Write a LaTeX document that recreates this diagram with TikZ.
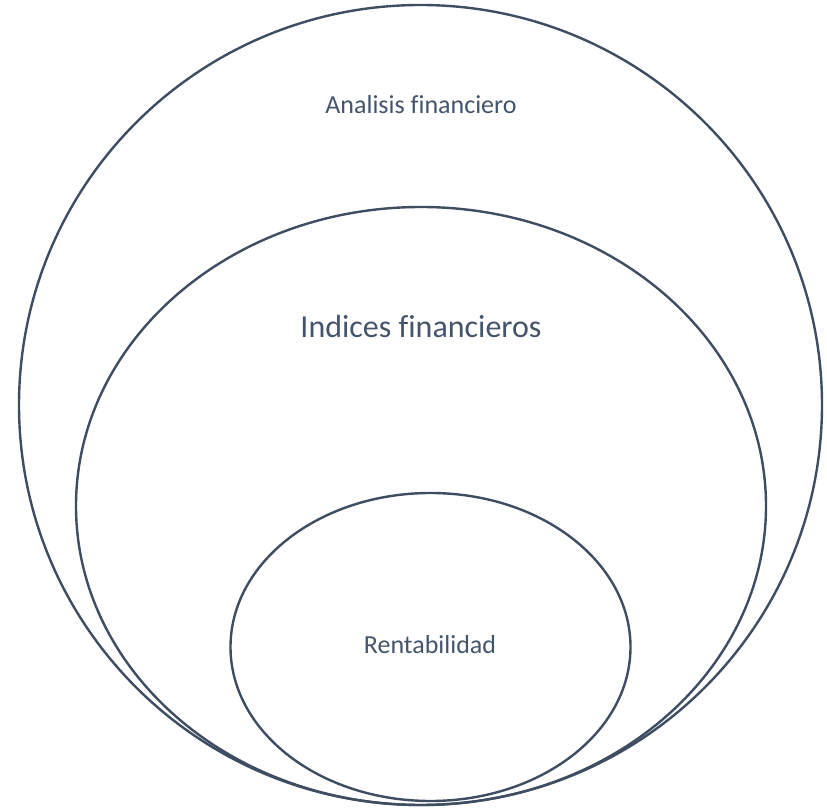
\documentclass[tikz,border=0pt]{standalone}
\usepackage{fontspec}
\setmainfont{Carlito}[Ligatures=NoCommon]
\definecolor{linec}{HTML}{3E4D62}
\definecolor{textc}{HTML}{44546A}
\begin{document}
\begin{tikzpicture}[x=1pt,y=1pt,
  ring/.style={draw=linec,line width=2.4pt},
  lbl/.style={text=textc,anchor=base,inner sep=0pt}]
\useasboundingbox (0,0) rectangle (827,809);
\draw[ring] (420.5,404) ellipse [x radius=401.5, y radius=400];
\draw[ring] (421,303) ellipse [x radius=345, y radius=299];
\draw[ring] (430.5,162) ellipse [x radius=200, y radius=154];
\node[lbl,font=\fontsize{26}{30}\selectfont] (a) at (421,809-113.3) {Analisis financiero};
\node[lbl,font=\fontsize{32}{38}\selectfont] (b) at (421,809-338) {Indices financieros};
\node[lbl,font=\fontsize{26}{30}\selectfont] (c) at (430,809-653) {Rentabilidad};
\end{tikzpicture}
\end{document}
